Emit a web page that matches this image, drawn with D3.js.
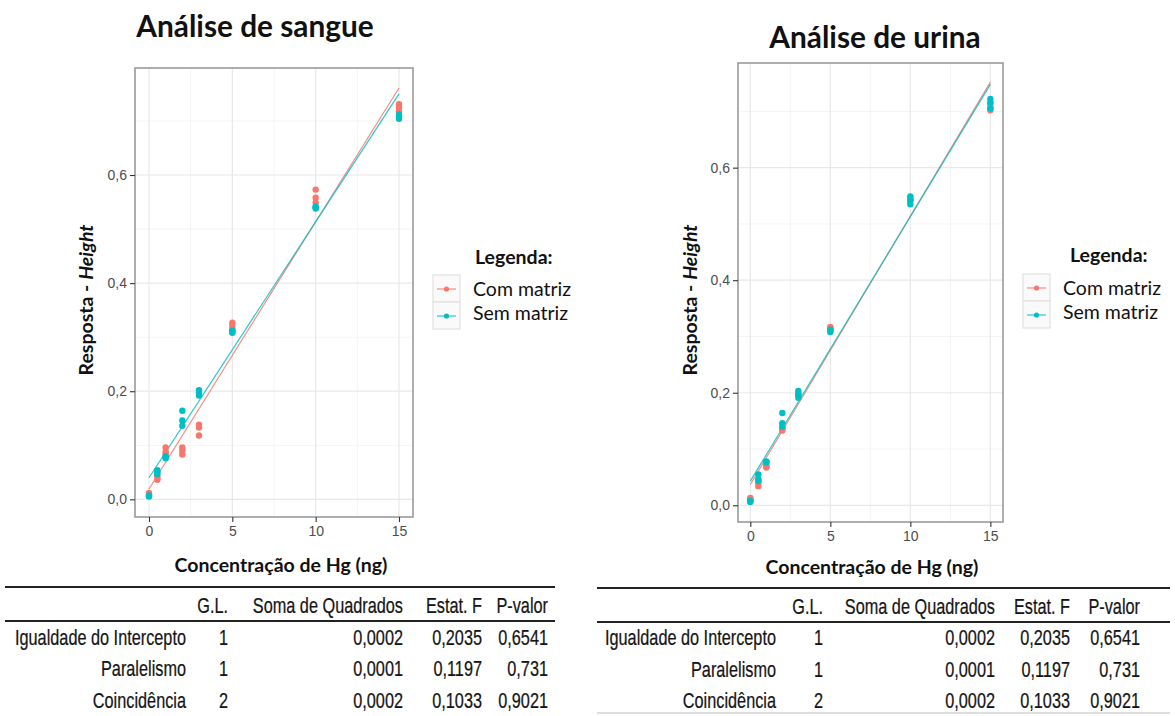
<!DOCTYPE html>
<html>
<head>
<meta charset="utf-8">
<script src="https://cdn.jsdelivr.net/npm/d3@7"></script>
<style>
  body { margin: 0; background: #fff; }
  svg { display: block; }
</style>
</head>
<body>
<svg id="chart" width="1175" height="716"></svg>
<script>
// ---------------- data ----------------
// Hg concentration (ng) of each replicate
const concBlood = [0,0,0, 0.5,0.5,0.5, 1,1,1, 2,2,2, 3,3,3, 5,5,5, 10,10,10, 15,15,15];
const concUrine = [0,0,0, 0.5,0.5,0.5, 1,1,1, 2,2,2, 3,3,3, 5,5,5, 10,10,10, 15,15,15];

// Response (peak height) - blood
const bloodCom = [0.012,0.008,0.010, 0.044,0.040,0.036, 0.096,0.084,0.088, 0.096,0.083,0.090,
                  0.138,0.133,0.118, 0.327,0.321,0.315, 0.573,0.558,0.549, 0.731,0.725,0.718];
const bloodSem = [0.005,0.007,0.006, 0.054,0.050,0.047, 0.076,0.080,0.078, 0.164,0.146,0.136,
                  0.202,0.197,0.192, 0.312,0.308,0.310, 0.542,0.538,0.540, 0.712,0.704,0.708];

// Response (peak height) - urine
const urineCom = [0.013,0.010,0.011, 0.034,0.040,0.044, 0.071,0.067,0.069, 0.137,0.133,0.135,
                  0.199,0.197,0.195, 0.317,0.313,0.315, 0.544,0.546,0.541, 0.713,0.707,0.702];
const urineSem = [0.006,0.007,0.008, 0.055,0.047,0.043, 0.078,0.076,0.077, 0.164,0.146,0.140,
                  0.203,0.191,0.196, 0.308,0.310,0.312, 0.549,0.535,0.542, 0.722,0.716,0.705];

// Fitted calibration lines: response at the two ends of the range
const fitX = [0, 15];
const bloodFitCom = [0.019, 0.761];
const bloodFitSem = [0.040, 0.750];
const urineFitCom = [0.037, 0.752];
const urineFitSem = [0.043, 0.748];

const xTicks = [0, 5, 10, 15];
const xMinor = [2.5, 7.5, 12.5];
const yTicks = [0, 0.2, 0.4, 0.6];
const yMinor = [0.1, 0.3, 0.5, 0.7];

const seriesNames = ["Com matriz", "Sem matriz"];
const seriesColors = ["#F8766D", "#00BFC4"];

// Comparison-of-regressions table
const tableHeader = ["G.L.", "Soma de Quadrados", "Estat. F", "P-valor"];
const tableTests = ["Igualdade do Intercepto", "Paralelismo", "Coincidência"];
const tableGL = [1, 1, 2];
const tableSS = [0.0002, 0.0001, 0.0002];
const tableF = [0.2035, 0.1197, 0.1033];
const tableP = [0.6541, 0.731, 0.9021];

// ---------------- drawing ----------------
const svg = d3.select("#chart");
const calibri = "Lato, 'Open Sans', sans-serif";
const arial = "'Liberation Sans', Arial, sans-serif";
const comma = v => String(v).replace(".", ",");
const fmt1 = v => d3.format(".1f")(v).replace(".", ",");

const panels = [
  {
    title: "Análise de sangue", titleX: 255, titleY: 37,
    left: 135, right: 413, top: 68, bottom: 517,
    xDomain: [-0.84, 15.84], yDomain: [-0.0327, 0.798],
    x: concBlood, com: bloodCom, sem: bloodSem, fitCom: bloodFitCom, fitSem: bloodFitSem,
    yTitleX: 92.5, xTitleX: 281, xTitleY: 572,
    legendX: 433, legendY: 275, legendTitleX: 475, legendTitleY: 264
  },
  {
    title: "Análise de urina", titleX: 875, titleY: 48,
    left: 738, right: 1003, top: 63, bottom: 522,
    xDomain: [-0.77, 15.79], yDomain: [-0.0297, 0.786],
    x: concUrine, com: urineCom, sem: urineSem, fitCom: urineFitCom, fitSem: urineFitSem,
    yTitleX: 697, xTitleX: 872, xTitleY: 574,
    legendX: 1023, legendY: 274, legendTitleX: 1070, legendTitleY: 262
  }
];

panels.forEach(p => {
  const g = svg.append("g");
  const xs = d3.scaleLinear().domain(p.xDomain).range([p.left, p.right]);
  const ys = d3.scaleLinear().domain(p.yDomain).range([p.bottom, p.top]);

  // title
  g.append("text").attr("x", p.titleX).attr("y", p.titleY)
    .attr("text-anchor", "middle").attr("font-family", calibri)
    .attr("font-weight", 700).attr("font-size", 29.8).attr("fill", "#111")
    .text(p.title);

  // panel background
  g.append("rect").attr("x", p.left).attr("y", p.top)
    .attr("width", p.right - p.left).attr("height", p.bottom - p.top)
    .attr("fill", "#fff");

  // grid
  const grid = g.append("g");
  grid.selectAll(".vmin").data(xMinor).join("line")
    .attr("x1", d => xs(d)).attr("x2", d => xs(d)).attr("y1", p.top).attr("y2", p.bottom)
    .attr("stroke", "#f4f4f4").attr("stroke-width", 1);
  grid.selectAll(".hmin").data(yMinor).join("line")
    .attr("y1", d => ys(d)).attr("y2", d => ys(d)).attr("x1", p.left).attr("x2", p.right)
    .attr("stroke", "#f4f4f4").attr("stroke-width", 1);
  grid.selectAll(".vmaj").data(xTicks).join("line")
    .attr("x1", d => xs(d)).attr("x2", d => xs(d)).attr("y1", p.top).attr("y2", p.bottom)
    .attr("stroke", "#e8e8e8").attr("stroke-width", 1.2);
  grid.selectAll(".hmaj").data(yTicks).join("line")
    .attr("y1", d => ys(d)).attr("y2", d => ys(d)).attr("x1", p.left).attr("x2", p.right)
    .attr("stroke", "#e8e8e8").attr("stroke-width", 1.2);

  // fitted lines
  const line = d3.line().x(d => xs(d[0])).y(d => ys(d[1]));
  [p.fitCom, p.fitSem].forEach((f, i) => {
    g.append("path").datum(fitX.map((xv, k) => [xv, f[k]]))
      .attr("d", line).attr("fill", "none")
      .attr("stroke", seriesColors[i]).attr("stroke-width", 1.2).attr("stroke-opacity", 0.85);
  });

  // points
  [p.com, p.sem].forEach((vals, i) => {
    g.append("g").selectAll("circle").data(vals).join("circle")
      .attr("cx", (d, k) => xs(p.x[k])).attr("cy", d => ys(d))
      .attr("r", 3.2).attr("fill", seriesColors[i]);
  });

  // panel border
  g.append("rect").attr("x", p.left).attr("y", p.top)
    .attr("width", p.right - p.left).attr("height", p.bottom - p.top)
    .attr("fill", "none").attr("stroke", "#9a9a9a").attr("stroke-width", 1.6);

  // axes
  const yAxis = d3.axisLeft(ys).tickValues(yTicks).tickFormat(fmt1).tickSize(5).tickPadding(3);
  const xAxis = d3.axisBottom(xs).tickValues(xTicks).tickFormat(d3.format("d")).tickSize(5).tickPadding(4);
  const ya = g.append("g").attr("transform", `translate(${p.left},0)`).call(yAxis);
  const xa = g.append("g").attr("transform", `translate(0,${p.bottom})`).call(xAxis);
  [ya, xa].forEach(a => {
    a.select(".domain").remove();
    a.selectAll(".tick line").attr("stroke", "#333").attr("stroke-width", 1.1);
    a.selectAll(".tick text").attr("fill", "#4d4d4d").attr("font-family", arial).attr("font-size", 14);
  });

  // axis titles
  g.append("text").attr("x", p.xTitleX).attr("y", p.xTitleY)
    .attr("text-anchor", "middle").attr("font-family", calibri).attr("font-weight", 700)
    .attr("font-size", 19.5).attr("fill", "#111").text("Concentração de Hg (ng)");
  const yt = g.append("text")
    .attr("transform", `translate(${p.yTitleX},300) rotate(-90)`)
    .attr("text-anchor", "middle").attr("font-family", calibri).attr("font-weight", 700)
    .attr("font-size", 19.5).attr("fill", "#111");
  yt.append("tspan").text("Resposta - ");
  yt.append("tspan").attr("font-style", "italic").text("Height");

  // legend
  const lg = g.append("g");
  lg.append("text").attr("x", p.legendTitleX).attr("y", p.legendTitleY)
    .attr("font-family", calibri).attr("font-weight", 700).attr("font-size", 19.5)
    .attr("fill", "#111").text("Legenda:");
  seriesNames.forEach((name, i) => {
    const ky = p.legendY + i * 27;
    lg.append("rect").attr("x", p.legendX).attr("y", ky).attr("width", 27).attr("height", 27)
      .attr("fill", "#fafafa").attr("stroke", "#e2e2e2").attr("stroke-width", 1.2);
    lg.append("line").attr("x1", p.legendX + 4).attr("x2", p.legendX + 23)
      .attr("y1", ky + 14).attr("y2", ky + 14)
      .attr("stroke", seriesColors[i]).attr("stroke-width", 1.2).attr("stroke-opacity", 0.85);
    lg.append("circle").attr("cx", p.legendX + 13.5).attr("cy", ky + 14).attr("r", 2.6)
      .attr("fill", seriesColors[i]);
    lg.append("text").attr("x", p.legendX + 40).attr("y", ky + 21 - i * 3)
      .attr("font-family", calibri).attr("font-size", 19.5).attr("fill", "#111").text(name);
  });
});

// ---------------- tables ----------------
const tables = [
  { x0: 5, x1: 555, rule1: 587, rule2: 621, headY: 613, rowY: [645, 676, 708],
    labelRight: 186, colRight: [228, 403, 482, 548], bottomRule: null },
  { x0: 597, x1: 1170, rule1: 588, rule2: 622, headY: 614, rowY: [645, 677, 708],
    labelRight: 776, colRight: [823, 995, 1070, 1140], bottomRule: 713 }
];
const sx = 0.74; // condensed lettering

tables.forEach(t => {
  const g = svg.append("g");
  g.append("line").attr("x1", t.x0).attr("x2", t.x1).attr("y1", t.rule1).attr("y2", t.rule1)
    .attr("stroke", "#222").attr("stroke-width", 2.2);
  g.append("line").attr("x1", t.x0).attr("x2", t.x1).attr("y1", t.rule2).attr("y2", t.rule2)
    .attr("stroke", "#222").attr("stroke-width", 2.2);
  if (t.bottomRule) {
    g.append("line").attr("x1", t.x0).attr("x2", t.x1).attr("y1", t.bottomRule).attr("y2", t.bottomRule)
      .attr("stroke", "#bbb").attr("stroke-width", 1);
  }
  const txt = (x, y, s) => g.append("text")
    .attr("transform", `translate(${x},${y}) scale(${sx},1)`)
    .attr("text-anchor", "end").attr("font-family", arial).attr("font-size", 22)
    .attr("fill", "#151515").attr("stroke", "#151515").attr("stroke-width", 0.25)
    .text(s);

  tableHeader.forEach((h, j) => txt(t.colRight[j], t.headY, h));
  tableTests.forEach((name, i) => {
    const y = t.rowY[i];
    txt(t.labelRight, y, name);
    txt(t.colRight[0], y, tableGL[i]);
    txt(t.colRight[1], y, comma(tableSS[i]));
    txt(t.colRight[2], y, comma(tableF[i]));
    txt(t.colRight[3], y, comma(tableP[i]));
  });
});
</script>
</body>
</html>
